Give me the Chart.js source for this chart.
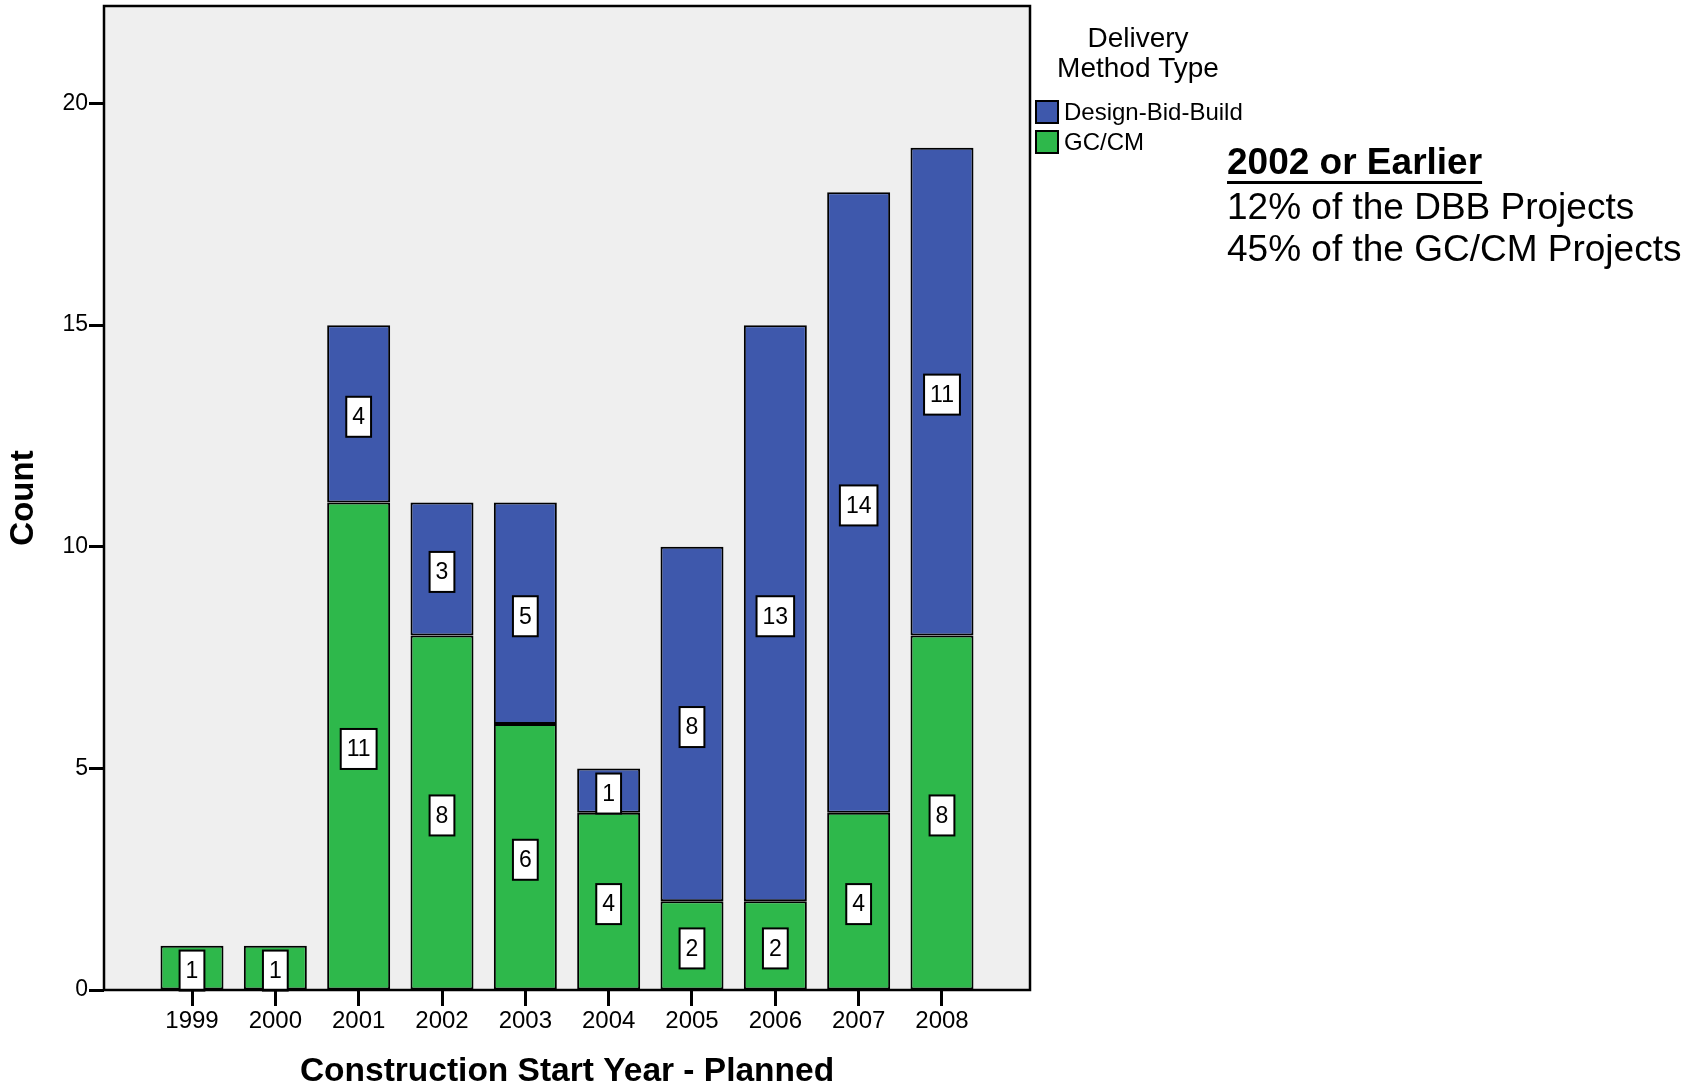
<!DOCTYPE html>
<html><head><meta charset="utf-8">
<script src="https://cdn.jsdelivr.net/npm/chart.js@4.4.1/dist/chart.umd.min.js"></script>
<style>html,body{margin:0;padding:0;background:#fff;overflow:hidden}canvas{display:block}</style>
</head><body>
<canvas id="c" width="1698" height="1089"></canvas>
<script>
const years = [1999, 2000, 2001, 2002, 2003, 2004, 2005, 2006, 2007, 2008];
const gcValues = [1, 1, 11, 8, 6, 4, 2, 2, 4, 8];
const dbbValues = [0, 0, 4, 3, 5, 1, 8, 13, 14, 11];
const yTickValues = [0, 5, 10, 15, 20];
const seriesNames = ['GC/CM', 'Design-Bid-Build'];
const legendTitle = ['Delivery', 'Method Type'];
const noteTitle = '2002 or Earlier';
const noteLines = ['12% of the DBB Projects', '45% of the GC/CM Projects'];
const xTitle = 'Construction Start Year - Planned';
const yTitle = 'Count';

const FONT = '"Liberation Sans", Arial, Helvetica, sans-serif';
const BLUE = '#3E58AC';
const GREEN = '#2EB84B';

const framePlugin = {
  id: 'frame',
  beforeDraw(chart) {
    const {ctx, chartArea: a} = chart;
    ctx.save();
    ctx.fillStyle = '#EFEFEF';
    ctx.fillRect(a.left, a.top, a.right - a.left, a.bottom - a.top);
    ctx.restore();
  },
  afterDraw(chart) {
    const {ctx, chartArea: a} = chart;
    ctx.save();
    ctx.strokeStyle = '#000';
    ctx.lineWidth = 2.5;
    ctx.strokeRect(a.left, a.top, a.right - a.left, a.bottom - a.top);

    // legend
    const lx = a.right;
    ctx.fillStyle = '#000';
    ctx.textAlign = 'center';
    ctx.textBaseline = 'middle';
    ctx.font = '28px ' + FONT;
    ctx.fillText(legendTitle[0], lx + 108, 39);
    ctx.fillText(legendTitle[1], lx + 108, 69);
    const ds = chart.data.datasets.slice().reverse();
    ds.forEach((d, i) => {
      const y = 101 + i * 30;
      ctx.fillStyle = d.backgroundColor;
      ctx.fillRect(lx + 6, y, 22, 22);
      ctx.strokeStyle = '#000';
      ctx.lineWidth = 2;
      ctx.strokeRect(lx + 6, y, 22, 22);
      ctx.fillStyle = '#000';
      ctx.textAlign = 'left';
      ctx.font = '24px ' + FONT;
      ctx.fillText(d.label, lx + 34, y + 12);
    });

    // note
    const nx = 1227;
    ctx.textAlign = 'left';
    ctx.font = 'bold 37px ' + FONT;
    ctx.fillText(noteTitle, nx, 164);
    const w = ctx.measureText(noteTitle).width;
    ctx.fillRect(nx, 181, w, 3);
    ctx.font = '37px ' + FONT;
    ctx.fillText(noteLines[0], nx, 209);
    ctx.fillText(noteLines[1], nx, 251);
    ctx.restore();
  }
};

const labelPlugin = {
  id: 'segLabels',
  afterDatasetsDraw(chart) {
    const {ctx} = chart;
    ctx.save();
    ctx.font = '23px ' + FONT;
    ctx.textAlign = 'center';
    ctx.textBaseline = 'middle';
    chart.data.datasets.forEach((d, di) => {
      const meta = chart.getDatasetMeta(di);
      meta.data.forEach((el, i) => {
        const v = d.data[i].y;
        if (!v) return;
        const txt = String(v);
        const cx = el.x;
        const cy = (el.y + el.base) / 2 + 3;
        const bw = ctx.measureText(txt).width + 12;
        const bh = 40;
        ctx.fillStyle = '#fff';
        ctx.fillRect(cx - bw / 2, cy - bh / 2, bw, bh);
        ctx.strokeStyle = '#000';
        ctx.lineWidth = 2;
        ctx.strokeRect(cx - bw / 2, cy - bh / 2, bw, bh);
        ctx.fillStyle = '#000';
        ctx.fillText(txt, cx, cy + 1);
      });
    });
    ctx.restore();
  }
};

new Chart(document.getElementById('c'), {
  type: 'bar',
  data: {
    labels: years,
    datasets: [
      {label: seriesNames[0], data: years.map((y, i) => ({x: y, y: gcValues[i]})),
       backgroundColor: GREEN, borderColor: '#000', borderWidth: 2, borderSkipped: false,
       categoryPercentage: 1, barPercentage: 0.756},
      {label: seriesNames[1], data: years.map((y, i) => ({x: y, y: dbbValues[i]})),
       backgroundColor: BLUE, borderColor: '#000', borderWidth: 2, borderSkipped: false,
       categoryPercentage: 1, barPercentage: 0.756}
    ]
  },
  options: {
    responsive: false,
    devicePixelRatio: 1,
    animation: false,
    layout: {padding: {left: 0, top: 6, right: 668, bottom: 0}},
    plugins: {legend: {display: false}, tooltip: {enabled: false}},
    scales: {
      x: {
        type: 'linear', stacked: true, offset: false,
        min: 1997.944, max: 2009.056,
        afterBuildTicks: s => { s.ticks = years.map(v => ({value: v})); },
        afterFit: s => { s.height = 99; s.paddingLeft = 0; s.paddingRight = 0; },
        grid: {drawOnChartArea: false, drawTicks: true, tickLength: 16, tickColor: '#000', tickWidth: 3, offset: false},
        border: {display: false},
        ticks: {color: '#000', font: {family: FONT, size: 24}, padding: 1, maxRotation: 0, autoSkip: false,
                callback: v => String(v)},
        title: {display: true, text: xTitle, color: '#000',
                font: {family: FONT, size: 33.5, weight: 'bold', lineHeight: 1}, padding: {top: 0, bottom: 0}}
      },
      y: {
        stacked: true, min: 0, max: 22.2,
        afterBuildTicks: s => { s.ticks = yTickValues.map(v => ({value: v})); },
        afterFit: s => { s.width = 104; s.paddingTop = 0; s.paddingBottom = 0; },
        grid: {drawOnChartArea: false, drawTicks: true, tickLength: 15, tickColor: '#000', tickWidth: 3},
        border: {display: false},
        ticks: {color: '#000', font: {family: FONT, size: 23}, padding: 1, callback: v => String(v)},
        title: {display: true, text: yTitle, color: '#000',
                font: {family: FONT, size: 33, weight: 'bold', lineHeight: 1}, padding: {top: 7, bottom: 0}}
      }
    }
  },
  plugins: [framePlugin, labelPlugin]
});
</script>
</body></html>
